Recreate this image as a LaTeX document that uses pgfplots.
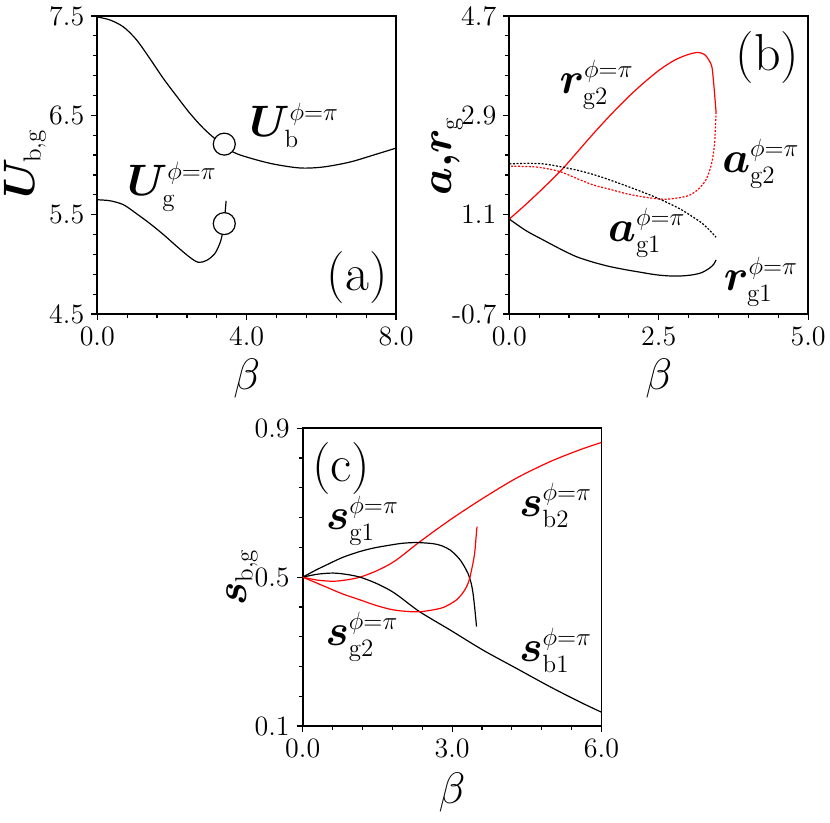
\RequirePackage{fix-cm}
\documentclass[border=0pt]{standalone}
\usepackage{bm}
\usepackage{pgfplots}
\pgfplotsset{compat=1.18}
\DeclareMathSizes{22}{22}{12.5}{10}
\tikzset{
  lab/.style={font=\fontsize{22}{24}\selectfont, anchor=center, inner sep=0pt},
  plab/.style={font=\fontsize{26}{28}\selectfont, anchor=center, inner sep=0pt},
}
\pgfplotsset{myax/.style={
  scale only axis, width=149.4pt, height=149pt,
  axis line style={line width=0.9pt},
  tick align=outside, tick pos=left,
  major tick length=3pt, minor tick length=2pt,
  every tick/.style={black, line width=0.6pt},
  minor x tick num=4, minor y tick num=4,
  tick label style={font=\fontsize{14}{14}\selectfont},
  label style={font=\fontsize{22}{24}\selectfont},
  xticklabel style={/pgf/number format/.cd, fixed, fixed zerofill, precision=1},
  yticklabel style={/pgf/number format/.cd, fixed, fixed zerofill, precision=1},
  every axis plot/.append style={line width=0.6pt, smooth},
}}
\begin{document}
\begin{tikzpicture}
\useasboundingbox (0,0) rectangle (415pt,-411.5pt);
% ---------- (a)
\begin{axis}[myax, at={(48.65pt,-157pt)}, anchor=south west,
  xmin=0, xmax=8, ymin=4.5, ymax=7.5,
  xtick={0,4,8}, ytick={4.5,5.5,6.5,7.5},
  xlabel={$\beta$}, ylabel={$\bm{U}_{\mathrm{b,g}}$},
  xlabel style={at={(axis description cs:0.5,-0.215)}, anchor=center},
  ylabel style={at={(axis description cs:-0.242,0.505)}, anchor=center}]
\addplot[black] coordinates {(0,7.49) (0.34,7.46) (0.70,7.39) (1.05,7.26) (1.41,7.07) (1.77,6.87) (2.13,6.69) (2.48,6.52) (2.84,6.37) (3.20,6.25) (3.64,6.13) (4.09,6.07) (4.71,6.01) (5.43,5.97) (6.05,5.98) (6.77,6.03) (7.48,6.11) (8.0,6.17)};
\addplot[black] coordinates {(0,5.65) (0.34,5.64) (0.70,5.60) (1.05,5.51) (1.41,5.41) (1.77,5.30) (2.13,5.18) (2.48,5.07) (2.71,5.02) (2.93,5.04) (3.15,5.11) (3.30,5.23) (3.37,5.35) (3.40,5.41) (3.42,5.51) (3.45,5.64)};
\addplot[only marks, mark=*, mark size=5.5pt, mark options={fill=white, draw=black, line width=0.6pt}] coordinates {(3.40,6.21) (3.40,5.41)};
\node[lab] at (axis cs:5.27,6.40) {$\bm{U}_{\mathrm{b}}^{\phi=\pi}$};
\node[lab] at (axis cs:2.0,5.78) {$\bm{U}_{\mathrm{g}}^{\phi=\pi}$};
\node[plab] at (axis cs:6.96,4.87) {(a)};
\end{axis}
% ---------- (b)
\begin{axis}[myax, at={(254.65pt,-157pt)}, anchor=south west,
  xmin=0, xmax=5, ymin=-0.7, ymax=4.7,
  xtick={0,2.5,5}, ytick={-0.7,1.1,2.9,4.7}, yticklabels={-0.7,1.1,2.9,4.7},
  xlabel={$\beta$}, ylabel={$\bm{a{,}r}_{\mathrm{g}}$},
  xlabel style={at={(axis description cs:0.5,-0.215)}, anchor=center},
  ylabel style={at={(axis description cs:-0.208,0.53)}, anchor=center}]
\addplot[red] coordinates {(0,1.02) (0.22,1.23) (0.44,1.45) (0.67,1.69) (0.90,1.94) (1.15,2.25) (1.40,2.56) (1.68,2.89) (1.96,3.20) (2.23,3.47) (2.51,3.72) (2.75,3.89) (2.96,3.99) (3.15,4.04) (3.27,4.00) (3.34,3.90) (3.39,3.78) (3.42,3.48) (3.46,2.96)};
\addplot[red, dash pattern=on 1pt off 0.8pt] coordinates {(3.46,2.96) (3.45,2.70) (3.43,2.33) (3.38,2.00) (3.29,1.73) (3.16,1.56) (3.01,1.45) (2.80,1.40) (2.57,1.38) (2.25,1.42) (1.96,1.48) (1.68,1.56) (1.40,1.64) (1.12,1.76) (0.85,1.88) (0.55,1.95) (0.35,1.97) (0,1.98)};
\addplot[black, dash pattern=on 1pt off 0.8pt] coordinates {(0,2.02) (0.30,2.03) (0.57,2.02) (0.85,1.97) (1.12,1.91) (1.40,1.83) (1.68,1.73) (1.96,1.62) (2.23,1.51) (2.46,1.41) (2.68,1.30) (2.88,1.19) (3.07,1.06) (3.22,0.95) (3.35,0.82) (3.46,0.69)};
\addplot[black] coordinates {(0,1.02) (0.28,0.81) (0.57,0.64) (0.85,0.48) (1.12,0.34) (1.40,0.24) (1.68,0.16) (1.96,0.10) (2.23,0.05) (2.46,0.01) (2.68,-0.01) (2.88,-0.01) (3.07,0.01) (3.22,0.05) (3.35,0.13) (3.42,0.20) (3.46,0.28)};
\node[plab] at (axis cs:4.32,3.94) {(b)};
\node[lab] at (axis cs:1.46,3.46) {$\bm{r}_{\mathrm{g2}}^{\phi=\pi}$};
\node[lab] at (axis cs:4.21,2.02) {$\bm{a}_{\mathrm{g2}}^{\phi=\pi}$};
\node[lab] at (axis cs:2.30,0.77) {$\bm{a}_{\mathrm{g1}}^{\phi=\pi}$};
\node[lab] at (axis cs:4.21,-0.12) {$\bm{r}_{\mathrm{g1}}^{\phi=\pi}$};
\end{axis}
% ---------- (c)
\begin{axis}[myax, at={(151.35pt,-363pt)}, anchor=south west, height=148.85pt,
  xmin=0, xmax=6, ymin=0.1, ymax=0.9,
  xtick={0,3,6}, ytick={0.1,0.5,0.9},
  xlabel={$\beta$}, ylabel={$\bm{s}_{\mathrm{b,g}}$},
  xlabel style={at={(axis description cs:0.5,-0.225)}, anchor=center},
  ylabel style={at={(axis description cs:-0.203,0.50)}, anchor=center}]
\addplot[red] coordinates {(0,0.5) (0.3,0.492) (0.62,0.489) (0.9,0.493) (1.15,0.50) (1.45,0.515) (1.75,0.535) (1.95,0.553) (2.35,0.595) (2.96,0.654) (3.62,0.712) (4.29,0.766) (4.96,0.810) (5.56,0.842) (6.0,0.862)};
\addplot[black] coordinates {(0,0.5) (0.3,0.508) (0.62,0.511) (0.9,0.507) (1.15,0.50) (1.45,0.485) (1.75,0.465) (1.95,0.447) (2.35,0.407) (2.96,0.358) (3.62,0.304) (4.29,0.255) (4.96,0.206) (5.56,0.165) (6.0,0.137)};
\addplot[black] coordinates {(0,0.5) (0.25,0.518) (0.48,0.533) (0.8,0.553) (1.15,0.569) (1.45,0.579) (1.75,0.586) (2.0,0.591) (2.29,0.593) (2.62,0.590) (2.80,0.584) (2.96,0.573) (3.10,0.556) (3.19,0.541) (3.27,0.523) (3.32,0.51) (3.38,0.485) (3.42,0.457) (3.46,0.41) (3.49,0.367)};
\addplot[red] coordinates {(0,0.5) (0.25,0.486) (0.48,0.473) (0.8,0.455) (1.15,0.439) (1.45,0.425) (1.75,0.414) (2.0,0.409) (2.35,0.407) (2.76,0.416) (2.95,0.427) (3.09,0.439) (3.20,0.455) (3.29,0.474) (3.35,0.495) (3.39,0.519) (3.43,0.545) (3.46,0.573) (3.48,0.605) (3.50,0.636)};
\node[plab] at (axis cs:0.77,0.792) {(c)};
\node[lab] at (axis cs:1.20,0.652) {$\bm{s}_{\mathrm{g1}}^{\phi=\pi}$};
\node[lab] at (axis cs:1.19,0.340) {$\bm{s}_{\mathrm{g2}}^{\phi=\pi}$};
\node[lab] at (axis cs:5.08,0.692) {$\bm{s}_{\mathrm{b2}}^{\phi=\pi}$};
\node[lab] at (axis cs:5.08,0.303) {$\bm{s}_{\mathrm{b1}}^{\phi=\pi}$};
\end{axis}
\end{tikzpicture}
\end{document}
